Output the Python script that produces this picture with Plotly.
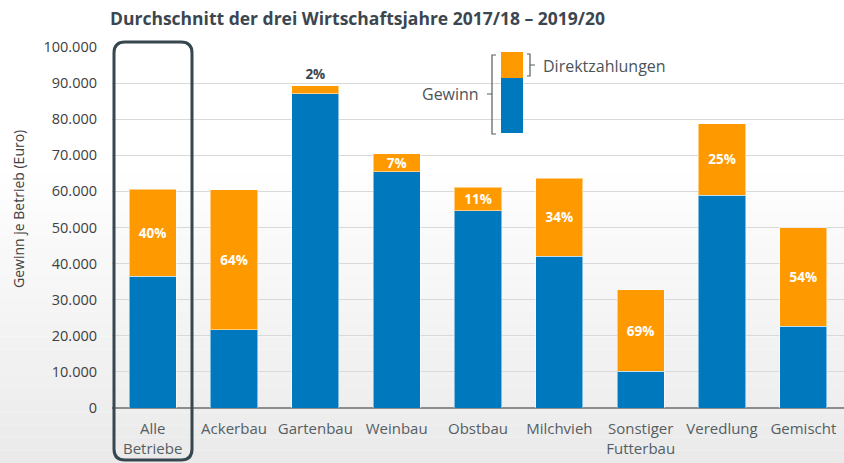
import plotly.graph_objects as go

categories = ["Alle<br>Betriebe", "Ackerbau", "Gartenbau", "Weinbau", "Obstbau",
              "Milchvieh", "Sonstiger<br>Futterbau", "Veredlung", "Gemischt"]
gewinn_ohne_dz = [36450, 21700, 87100, 65500, 54650, 42000, 10150, 58900, 22700]
direktzahlungen = [24210, 38770, 2100, 4900, 6450, 21700, 22550, 19900, 27200]
anteil_labels = ["40%", "64%", "2%", "7%", "11%", "34%", "69%", "25%", "54%"]
label_pos = ["inside", "inside", "outside", "inside", "inside", "inside", "inside", "inside", "inside"]
y_ticks = [0, 10000, 20000, 30000, 40000, 50000, 60000, 70000, 80000, 90000, 100000]
y_tick_text = ["0", "10.000", "20.000", "30.000", "40.000", "50.000", "60.000",
               "70.000", "80.000", "90.000", "100.000"]

BLUE = "#0078BE"
ORANGE = "#FF9900"
TXT = "#3B4750"
FONT = "Open Sans"

W, H = 844, 463
L, R, T, B = 112, 0, 47, 55
PW, PH = W - L - R, H - T - B


def px(x):
    return (x - L) / PW


def py(y):
    return (H - B - y) / PH


fig = go.Figure()
fig.add_trace(go.Bar(
    x=categories, y=gewinn_ohne_dz, marker=dict(color=BLUE, line=dict(color="rgba(255,255,255,0.5)", width=1)),
    hoverinfo="skip", showlegend=False))
fig.add_trace(go.Bar(
    x=categories, y=direktzahlungen,
    marker=dict(color=ORANGE, line=dict(color="rgba(255,255,255,0.5)", width=1)),
    text=anteil_labels, textposition=label_pos, insidetextanchor="middle",
    constraintext="none", cliponaxis=False,
    insidetextfont=dict(family=FONT, size=13.5, color="white", weight="bold"),
    outsidetextfont=dict(family=FONT, size=13.5, color=TXT, weight="bold"),
    hoverinfo="skip", showlegend=False))

shapes = []
# background gradient
n = 24
y0, y1 = 160, H
for i in range(n):
    a = y0 + (y1 - y0) * i / n
    b = y0 + (y1 - y0) * (i + 1) / n
    g = int(round(255 - (255 - 234) * (i + 0.5) / n))
    shapes.append(dict(type="rect", xref="paper", yref="paper", x0=px(0), x1=px(W),
                       y0=py(b), y1=py(a), line=dict(width=0),
                       fillcolor=f"rgb({g},{g},{g})", layer="below"))

# rounded highlight box around "Alle Betriebe"
bx0, bx1, by0, by1, r = 114, 192, 42, 460, 11
path = (f"M {px(bx0 + r)},{py(by0)} L {px(bx1 - r)},{py(by0)} "
        f"Q {px(bx1)},{py(by0)} {px(bx1)},{py(by0 + r)} "
        f"L {px(bx1)},{py(by1 - r)} Q {px(bx1)},{py(by1)} {px(bx1 - r)},{py(by1)} "
        f"L {px(bx0 + r)},{py(by1)} Q {px(bx0)},{py(by1)} {px(bx0)},{py(by1 - r)} "
        f"L {px(bx0)},{py(by0 + r)} Q {px(bx0)},{py(by0)} {px(bx0 + r)},{py(by0)} Z")
shapes.append(dict(type="path", xref="paper", yref="paper", path=path,
                   line=dict(color="#37474F", width=3)))

# custom legend glyph
shapes.append(dict(type="rect", xref="paper", yref="paper", x0=px(501), x1=px(523),
                   y0=py(78), y1=py(52), fillcolor=ORANGE, line=dict(width=0)))
shapes.append(dict(type="rect", xref="paper", yref="paper", x0=px(501), x1=px(523),
                   y0=py(133), y1=py(78), fillcolor=BLUE, line=dict(width=0)))
br = (f"M {px(496)},{py(55)} L {px(492)},{py(55)} L {px(492)},{py(134)} L {px(496)},{py(134)} "
      f"M {px(492)},{py(94)} L {px(487)},{py(94)}")
shapes.append(dict(type="path", xref="paper", yref="paper", path=br,
                   line=dict(color="#555E63", width=1.2)))
br2 = (f"M {px(527)},{py(54)} L {px(530)},{py(54)} L {px(530)},{py(76)} L {px(527)},{py(76)} "
       f"M {px(530)},{py(65)} L {px(535)},{py(65)}")
shapes.append(dict(type="path", xref="paper", yref="paper", path=br2,
                   line=dict(color="#555E63", width=1.2)))

annotations = [
    dict(text="<b>Durchschnitt der drei Wirtschaftsjahre 2017/18 – 2019/20</b>",
         xref="paper", yref="paper", x=px(108), y=py(18), xanchor="left", yanchor="middle",
         showarrow=False, font=dict(family=FONT, size=17.5, color=TXT)),
    dict(text="Gewinn je Betrieb (Euro)", xref="paper", yref="paper", x=px(18), y=py(209),
         textangle=-90, xanchor="center", yanchor="middle", showarrow=False,
         font=dict(family=FONT, size=14, color="#404040")),
    dict(text="Direktzahlungen", xref="paper", yref="paper", x=px(541), y=py(66),
         xanchor="left", yanchor="middle", showarrow=False,
         font=dict(family=FONT, size=16, color="#4A5459")),
    dict(text="Gewinn", xref="paper", yref="paper", x=px(481), y=py(94),
         xanchor="right", yanchor="middle", showarrow=False,
         font=dict(family=FONT, size=16, color="#4A5459")),
]

fig.update_layout(
    width=W, height=H, margin=dict(l=L, r=R, t=T, b=B),
    barmode="stack", bargap=0.42,
    paper_bgcolor="white", plot_bgcolor="rgba(0,0,0,0)",
    font=dict(family=FONT, color="#404040"),
    shapes=shapes, annotations=annotations,
    xaxis=dict(tickfont=dict(family=FONT, size=15, color="#555E63"), showgrid=False,
               showline=False, zeroline=False, ticks="", ticklabelstandoff=10),
    yaxis=dict(range=[0, 100000], tickvals=y_ticks, ticktext=y_tick_text,
               tickfont=dict(family=FONT, size=14.5, color="#404040"),
               showgrid=True, gridcolor="#D9D9D9", gridwidth=1.3,
               zeroline=True, zerolinecolor="#8C8C8C", zerolinewidth=1.5,
               showline=False, ticks="", ticklabelstandoff=14),
)

fig.write_html("out.html", config={"displayModeBar": False})
with open("out.html", encoding="utf-8") as f:
    html = f.read()
html = html.replace("<body>", '<body style="margin:0;padding:0;overflow:hidden">', 1)
with open("out.html", "w", encoding="utf-8") as f:
    f.write(html)
